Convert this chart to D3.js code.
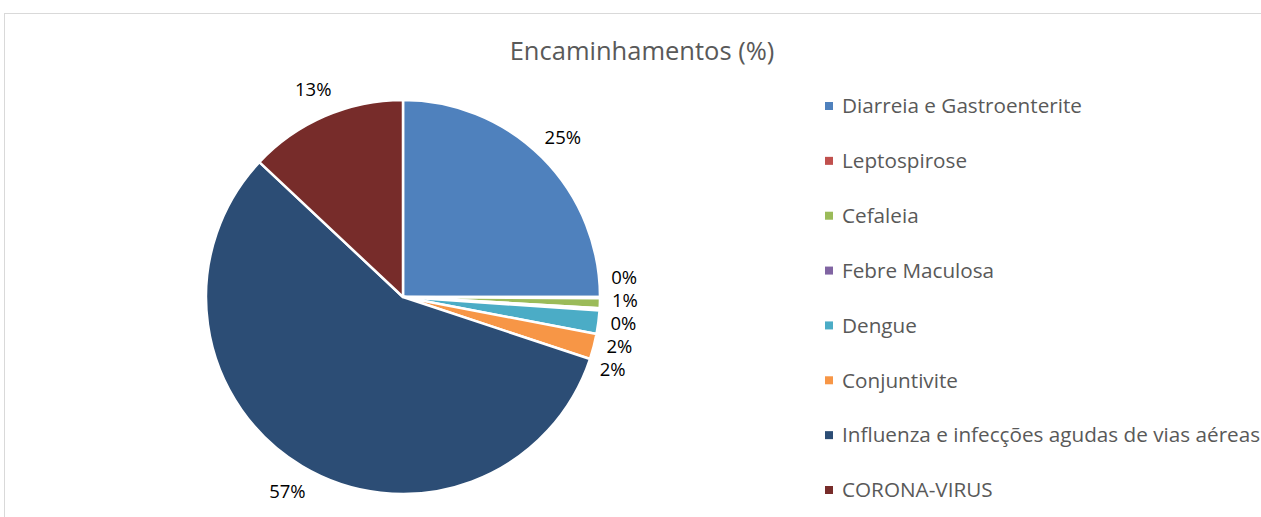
<!DOCTYPE html>
<html><head><meta charset="utf-8">
<script src="https://cdn.jsdelivr.net/npm/d3@7"></script>
<style>body{margin:0;background:#fff;}svg{display:block;}</style>
</head><body>
<svg id="chart" width="1261" height="517"></svg>
<script>
const title = "Encaminhamentos (%)";
const categories = ["Diarreia e Gastroenterite","Leptospirose","Cefaleia","Febre Maculosa","Dengue","Conjuntivite","Influenza e infecções agudas de vias aéreas","CORONA-VIRUS"];
const values = [25.0, 0.1, 0.8, 0.2, 1.9, 2.1, 56.9, 13.0];
const colors = ["#4F81BD","#C0504D","#9BBB59","#8064A2","#4BACC6","#F79646","#2C4D75","#772C2A"];

const svg = d3.select("#chart");
const W = 1261, H = 517;
const font = "'Open Sans', 'Noto Sans', sans-serif";

// chart area border
svg.append("rect").attr("x",4.5).attr("y",13.5).attr("width",W+20).attr("height",H+20)
  .attr("fill","#fff").attr("stroke","#D9D9D9").attr("stroke-width",1);

svg.append("text").attr("x",642).attr("y",60).attr("text-anchor","middle")
  .attr("font-family",font).attr("font-size",25.5).attr("fill","#595959").text(title);

const cx = 403, cy = 297, R = 197;
const data = categories.map((c,i)=>({name:c, value:values[i], color:colors[i]}));
const pie = d3.pie().sort(null).value(d=>d.value);
const arcs = pie(data);
const arc = d3.arc().innerRadius(0).outerRadius(R);
const g = svg.append("g").attr("transform",`translate(${cx},${cy})`);
g.selectAll("path").data(arcs).join("path")
  .attr("d",arc).attr("fill",d=>d.data.color)
  .attr("stroke","#fff").attr("stroke-width",2.5).attr("stroke-linejoin","round");

// labels
const fmt = v => Math.round(v) + "%";
const labels = arcs.map(a=>{
  const ang = (a.startAngle + a.endAngle)/2;
  const big = a.data.value > 5;
  const rl = big ? 226 : 222;
  return {a, ang, rl, big, x: rl*Math.sin(ang), y: -rl*Math.cos(ang), text: fmt(a.data.value)};
});
// relax small labels vertically
const small = labels.filter(l=>!l.big);
const gap = 23;
for (let it=0; it<300; it++) {
  for (let i=1;i<small.length;i++){
    const d = small[i].y - small[i-1].y;
    if (d < gap) { const m=(gap-d); small[i].y += m*0.57; small[i-1].y -= m*0.43; }
  }
}
small.forEach(l=>{ const dy = Math.max(-l.rl, Math.min(l.rl, l.y)); l.x = Math.sqrt(l.rl*l.rl - dy*dy); });
g.selectAll("text.lbl").data(labels).join("text").attr("class","lbl")
  .attr("x",d=>d.x).attr("y",d=>d.y).attr("dy","0.35em").attr("text-anchor","middle")
  .attr("font-family",font).attr("font-size",18.5).attr("fill","#000").text(d=>d.text);

// legend
const leg = svg.append("g");
const ly = d3.scalePoint().domain(categories).range([106, 490]);
const items = leg.selectAll("g").data(data).join("g").attr("transform",d=>`translate(825,${ly(d.name)})`);
items.append("rect").attr("x",0).attr("y",-4).attr("width",8).attr("height",8).attr("fill",d=>d.color);
items.append("text").attr("x",17).attr("y",0).attr("dy","0.35em")
  .attr("font-family",font).attr("font-size",20.7).attr("fill","#595959").text(d=>d.name);
</script>
</body></html>
